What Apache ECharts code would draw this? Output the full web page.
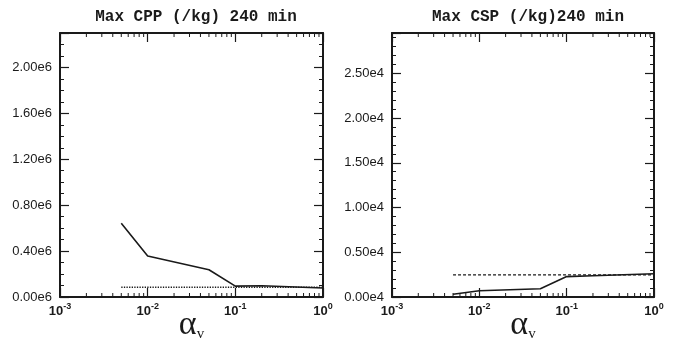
<!DOCTYPE html>
<html>
<head>
<meta charset="utf-8">
<script src="https://cdn.jsdelivr.net/npm/echarts@6/dist/echarts.min.js"></script>
<style>
  html, body { margin: 0; padding: 0; background: #fff; }
  #chart { width: 680px; height: 341px; }
</style>
</head>
<body>
<div id="chart"></div>
<script>
// alpha_v values (log x axis)
const alphaV = [0.005, 0.01, 0.05, 0.1, 0.2, 1];

// Max CPP (/kg) 240 min
const cppSolid = [0.643e6, 0.357e6, 0.237e6, 0.095e6, 0.098e6, 0.079e6];
const cppDotted = [0.085e6, 0.085e6, 0.085e6, 0.085e6, 0.085e6, 0.085e6];

// Max CSP (/kg) 240 min
const cspSolid = [300, 700, 930, 2280, 2380, 2600];
const cspDashed = [2470, 2470, 2470, 2470, 2470, 2470];

const titles = ['Max CPP (/kg) 240 min', 'Max CSP (/kg)240 min'];
const yMax = [2.3e6, 2.95e4];
const yStep = [0.4e6, 0.5e4];
const yMinorSplit = [4, 5];
const yExp = [6, 4];
const decades = [0.001, 0.01, 0.1];
const minorMult = [2, 3, 4, 5, 6, 7, 8, 9];

const ink = '#1a1a1a';
const minorX = [];
decades.forEach(d => minorMult.forEach(m => minorX.push([d * m])));

const grids = [
  {left: 60, right: 357, top: 33, bottom: 44, outerBoundsMode: 'none'},
  {left: 392, right: 26, top: 33, bottom: 44, outerBoundsMode: 'none'}
];

const xAxes = [];
const yAxes = [];
[0, 1].forEach(g => {
  const frame = {show: true, onZero: false, lineStyle: {color: ink, width: 2}};
  xAxes.push({
    type: 'log', logBase: 10, min: 0.001, max: 1, gridIndex: g, position: 'bottom',
    axisLine: frame,
    axisTick: {inside: true, length: 9, lineStyle: {color: ink, width: 1.2}},
    splitLine: {show: false},
    axisLabel: {
      margin: 5, color: ink,
      formatter: v => '{b|10}{s|' + Math.round(Math.log10(v)) + '}',
      rich: {
        b: {fontFamily: 'Liberation Sans', fontWeight: 'bold', fontSize: 13, lineHeight: 16, verticalAlign: 'bottom'},
        s: {fontFamily: 'Liberation Sans', fontWeight: 'bold', fontSize: 9, lineHeight: 16, verticalAlign: 'top'}
      }
    },
    name: '{a|α}{v|v}', nameLocation: 'middle', nameGap: 17, nameMoveOverlap: false,
    nameTextStyle: {
      rich: {
        a: {fontFamily: 'Liberation Serif', fontSize: 34, color: ink, lineHeight: 28, verticalAlign: 'bottom'},
        v: {fontFamily: 'Liberation Serif', fontSize: 15, color: ink, lineHeight: 28, verticalAlign: 'bottom'}
      }
    }
  });
  xAxes.push({
    type: 'log', logBase: 10, min: 0.001, max: 1, gridIndex: g, position: 'top',
    axisLine: frame,
    axisTick: {inside: true, length: 9, lineStyle: {color: ink, width: 1.2}},
    axisLabel: {show: false}, splitLine: {show: false}
  });
  const yBase = {
    type: 'value', min: 0, max: yMax[g], interval: yStep[g], gridIndex: g,
    axisLine: frame,
    axisTick: {inside: true, length: 9, lineStyle: {color: ink, width: 1.2}},
    minorTick: {show: true, splitNumber: yMinorSplit[g], length: 4, lineStyle: {color: ink, width: 1}},
    splitLine: {show: false}
  };
  yAxes.push(Object.assign({}, yBase, {
    position: 'left',
    axisLabel: {
      margin: 8, color: ink, fontFamily: 'Liberation Sans', fontSize: 13, showMaxLabel: false,
      formatter: v => (v / Math.pow(10, yExp[g])).toFixed(2) + 'e' + yExp[g]
    }
  }));
  yAxes.push(Object.assign({}, yBase, {position: 'right', axisLabel: {show: false}}));
});

function minorTicks(g) {
  return {
    type: 'custom', xAxisIndex: g * 2, yAxisIndex: g * 2, silent: true, z: 5,
    data: minorX,
    renderItem: (params, api) => {
      const x = api.value(0);
      const b = api.coord([x, 0]);
      const t = api.coord([x, yMax[g]]);
      const st = {stroke: ink, lineWidth: 1};
      return {
        type: 'group',
        children: [
          {type: 'line', shape: {x1: b[0], y1: b[1], x2: b[0], y2: b[1] - 4}, style: st},
          {type: 'line', shape: {x1: t[0], y1: t[1], x2: t[0], y2: t[1] + 4}, style: st}
        ]
      };
    }
  };
}

function line(g, ys, type, width) {
  return {
    type: 'line', xAxisIndex: g * 2, yAxisIndex: g * 2, showSymbol: false, symbol: 'none',
    data: alphaV.map((x, i) => [x, ys[i]]),
    lineStyle: {color: ink, width: width, type: type},
    z: 4
  };
}

const chart = echarts.init(document.getElementById('chart'));
chart.setOption({
  animation: false,
  backgroundColor: '#fff',
  title: [0, 1].map(g => ({
    text: titles[g],
    left: g === 0 ? 191 : 523, top: 4, textAlign: 'center',
    textStyle: {fontFamily: 'Liberation Mono', fontWeight: 'bold', fontSize: 16, color: ink}
  })),
  grid: grids,
  xAxis: xAxes,
  yAxis: yAxes,
  series: [
    line(0, cppSolid, 'solid', 1.6),
    line(0, cppDotted, 'dotted', 1.3),
    line(1, cspSolid, 'solid', 1.6),
    Object.assign(line(1, cspDashed, 'dashed', 1.2), {lineStyle: {color: ink, width: 1.2, type: [3, 2]}}),
    minorTicks(0),
    minorTicks(1)
  ]
});
</script>
</body>
</html>
